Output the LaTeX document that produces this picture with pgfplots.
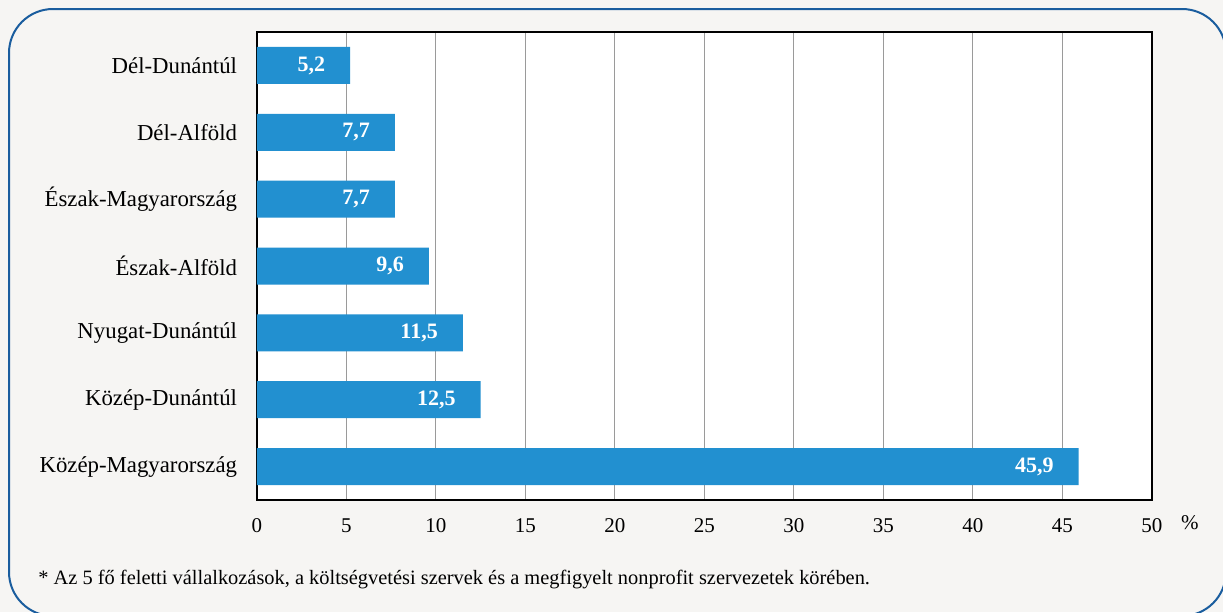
\documentclass[border=0pt]{standalone}
\usepackage{pgfplots}
\pgfplotsset{compat=1.18}
\usepackage{fontspec}
\setmainfont{Liberation Serif}
\definecolor{bgc}{HTML}{F6F5F3}
\definecolor{barc}{HTML}{2290D0}
\definecolor{framec}{HTML}{1A5D9E}
\definecolor{gridc}{HTML}{9A9A9A}
\begin{document}
\begin{tikzpicture}
\path[use as bounding box, fill=bgc] (0pt,0pt) rectangle (611.5pt,-306pt);
\begin{scope}
\clip (0pt,0pt) rectangle (611.5pt,-306pt);
\draw[framec, line width=1pt, rounded corners=22pt] (4.5pt,-4.5pt) rectangle (613pt,-308pt);
\end{scope}
\begin{axis}[
  at={(128.5pt,-250pt)}, anchor=south west,
  scale only axis, width=447.5pt, height=234pt,
  xbar, bar width=18.5pt,
  xmin=0, xmax=50, ymin=-0.5, ymax=6.5,
  xtick={0,5,...,50},
  ytick={0,...,6},
  yticklabels={Közép-Magyarország,Közép-Dunántúl,Nyugat-Dunántúl,Észak-Alföld,Észak-Magyarország,Dél-Alföld,Dél-Dunántúl},
  tick style={draw=none},
  xmajorgrids, major grid style={gridc, line width=0.5pt},
  axis line style={black, line width=1pt},
  axis background/.style={fill=white},
  tick label style={font=\fontsize{10.5}{12}\selectfont},
  yticklabel style={font=\fontsize{11.4}{13}\selectfont, inner sep=0pt, xshift=-5.5pt},
  xticklabel style={inner sep=0pt, anchor=north, yshift=-9pt},
  /pgf/number format/assume math mode=true,
  nodes near coords={\pgfmathprintnumber[use comma,fixed,fixed zerofill,precision=1]{\pgfplotspointmeta}},
  every node near coord/.append style={anchor=east, xshift=-9pt, text=white, font=\fontsize{11}{13}\selectfont\bfseries},
  clip=false,
]
\addplot[fill=barc, draw=none] coordinates {
  (45.9,0) (12.5,1) (11.5,2) (9.6,3) (7.7,4) (7.7,5) (5.2,6)
};
\node[font=\fontsize{10.5}{12}\selectfont] at (rel axis cs:1,0) [xshift=19pt, yshift=-11.5pt] {\%};
\end{axis}
\node[anchor=west, inner sep=0pt, font=\fontsize{10.2}{12}\selectfont] at (19pt,-290pt) {* Az 5 fő feletti vállalkozások, a költségvetési szervek és a megfigyelt nonprofit szervezetek körében.};
\end{tikzpicture}
\end{document}
